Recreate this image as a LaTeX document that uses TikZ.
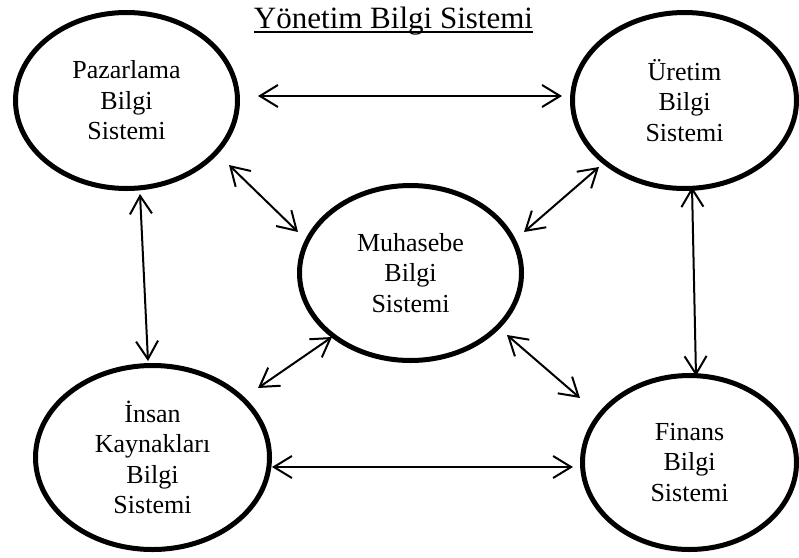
\documentclass[tikz,border=0pt]{standalone}
\usepackage{fontspec}
\setmainfont{Liberation Serif}
\usetikzlibrary{shapes.geometric,arrows.meta}

\tikzset{
  sysnode/.style={ellipse, draw, line width=5pt, inner sep=0pt, align=center,
    font=\fontsize{26}{30.5}\selectfont},
  tip/.style={Straight Barb[length=18pt,width=22pt,line width=2pt]},
  link/.style={line width=2pt, {Straight Barb[length=18pt,width=22pt,line width=2pt]}-{Straight Barb[length=18pt,width=22pt,line width=2pt]}}
}

\begin{document}
\begin{tikzpicture}[x=1pt,y=-1pt]
  \useasboundingbox (0,0) rectangle (799,557);

  % title
  \node[inner sep=0pt, anchor=base, font=\fontsize{31}{36}\selectfont] (title) at (393.5,28) {Yönetim Bilgi Sistemi};
  \draw[line width=1.6pt] ([yshift=-4pt]title.base west) -- ([yshift=-4pt]title.base east);

  % subsystems
  \node[sysnode, minimum width=222pt, minimum height=176pt] (paz) at (126.5,100.5) {Pazarlama\\Bilgi\\Sistemi};
  \node[sysnode, minimum width=224pt, minimum height=176pt] (ure) at (684.5,100.5) {Üretim\\Bilgi\\Sistemi};
  \node[sysnode, minimum width=222pt, minimum height=175pt] (muh) at (410.5,273) {Muhasebe\\Bilgi\\Sistemi};
  \node[sysnode, minimum width=234pt, minimum height=184pt] (ins) at (152.5,457.5) {İnsan\\Kaynakları\\Bilgi\\Sistemi};
  \node[sysnode, minimum width=214pt, minimum height=174pt] (fin) at (689.5,462.5) {Finans\\Bilgi\\Sistemi};

  % connector ends
  \coordinate (paz-ure) at (258,96);   \coordinate (ure-paz) at (562,96);
  \coordinate (paz-ins) at (140,194);  \coordinate (ins-paz) at (148,361);
  \coordinate (ure-fin) at (692,187);  \coordinate (fin-ure) at (696,376);
  \coordinate (paz-muh) at (229,165);  \coordinate (muh-paz) at (298,232);
  \coordinate (ure-muh) at (599,167);  \coordinate (muh-ure) at (524,232);
  \coordinate (muh-ins) at (332,337);  \coordinate (ins-muh) at (258,388);
  \coordinate (muh-fin) at (507,335);  \coordinate (fin-muh) at (580,398);
  \coordinate (ins-fin) at (272,467);  \coordinate (fin-ins) at (573,467);

  % two-way links
  \draw[link] (paz-ure) -- (ure-paz);
  \draw[link] (paz-ins) -- (ins-paz);
  \draw[link] (ure-fin) -- (fin-ure);
  \draw[link] (paz-muh) -- (muh-paz);
  \draw[link] (ure-muh) -- (muh-ure);
  \draw[link] (muh-ins) -- (ins-muh);
  \draw[link] (muh-fin) -- (fin-muh);
  \draw[link] (ins-fin) -- (fin-ins);
\end{tikzpicture}
\end{document}
